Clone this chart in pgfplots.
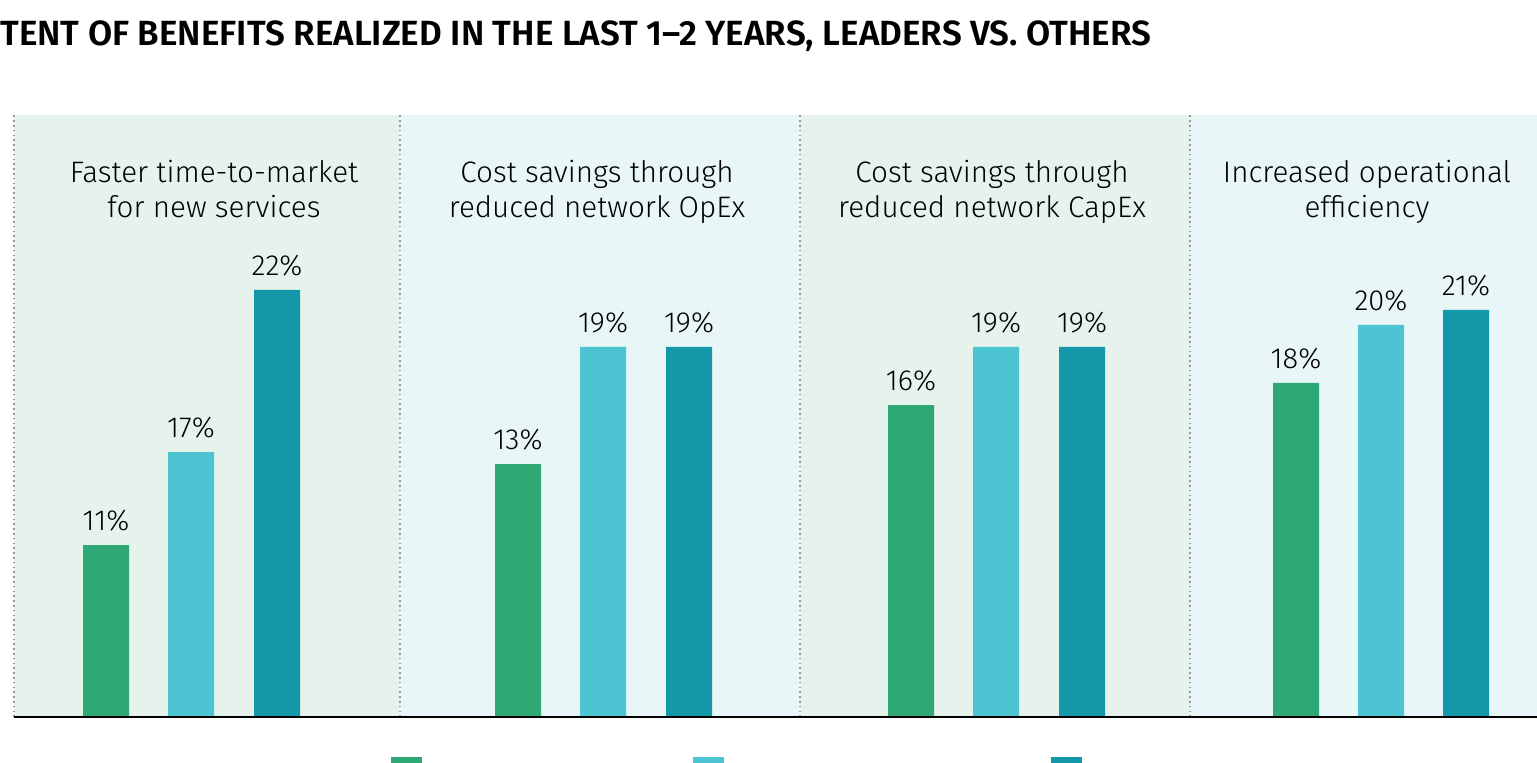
\documentclass[border=0pt]{standalone}
\usepackage{pgfplots}
\pgfplotsset{compat=1.18}
\usepackage{fontspec}
\setmainfont{Fira Sans Light}[BoldFont={Fira Sans SemiBold}]
\definecolor{cgreen}{HTML}{2EA874}
\definecolor{ccyan}{HTML}{4DC4D2}
\definecolor{cteal}{HTML}{1597AA}
\definecolor{bggreen}{HTML}{E6F3EC}
\definecolor{bgcyan}{HTML}{E8F6F7}
\begin{document}
\begin{tikzpicture}
\node[anchor=base west, inner sep=0pt, font=\bfseries\fontsize{17.5}{20}\selectfont] at (0pt,358pt) {TENT OF BENEFITS REALIZED IN THE LAST 1--2 YEARS, LEADERS VS. OTHERS};
\node[anchor=base east, inner sep=0pt, font=\bfseries\fontsize{17.5}{20}\selectfont] at (0pt,358pt) {EX};
\begin{axis}[
  at={(7pt,22.5pt)}, anchor=south west,
  scale only axis, width=761.5pt, height=301pt,
  xmin=14, xmax=1537, ymin=0, ymax=31.01,
  hide axis, clip=false, set layers,
  ybar, bar width=46, bar shift=0pt,
  nodes near coords, point meta=explicit symbolic,
  every node near coord/.append style={font=\fontsize{14.5}{16}\selectfont, anchor=south, inner sep=0pt, yshift=6.5pt, text=black},
]
\begin{pgfonlayer}{axis background}
\fill[bggreen] (axis cs:14,0) rectangle (axis cs:400,31.01);
\fill[bgcyan] (axis cs:400,0) rectangle (axis cs:800,31.01);
\fill[bggreen] (axis cs:800,0) rectangle (axis cs:1190,31.01);
\fill[bgcyan] (axis cs:1190,0) rectangle (axis cs:1537,31.01);
\draw[gray!80, line width=0.8pt, dash pattern=on 0.8pt off 1.6pt] (axis cs:14,0) -- (axis cs:14,31.01);
\draw[gray!80, line width=0.8pt, dash pattern=on 0.8pt off 1.6pt] (axis cs:400,0) -- (axis cs:400,31.01);
\draw[gray!80, line width=0.8pt, dash pattern=on 0.8pt off 1.6pt] (axis cs:800,0) -- (axis cs:800,31.01);
\draw[gray!80, line width=0.8pt, dash pattern=on 0.8pt off 1.6pt] (axis cs:1190,0) -- (axis cs:1190,31.01);
\end{pgfonlayer}
\addplot[fill=cgreen, draw=none] coordinates {(106,8.86)[11\%] (518,13.03)[13\%] (911,16.07)[16\%] (1296,17.21)[18\%]};
\addplot[fill=ccyan, draw=none] coordinates {(191,13.65)[17\%] (603,19.06)[19\%] (996,19.06)[19\%] (1381,20.2)[20\%]};
\addplot[fill=cteal, draw=none] coordinates {(277,22.0)[22\%] (689,19.06)[19\%] (1082,19.06)[19\%] (1466,20.97)[21\%]};
\draw[black, line width=1.1pt] (axis cs:14,0) -- (axis cs:1537,0);
\node[align=center, font=\fontsize{14.8}{17.5}\selectfont, inner sep=0pt] at (axis cs:214,27.18) {Faster time-to-market\\for new services};
\node[align=center, font=\fontsize{14.8}{17.5}\selectfont, inner sep=0pt] at (axis cs:597,27.03) {Cost savings through\\reduced network OpEx};
\node[align=center, font=\fontsize{14.8}{17.5}\selectfont, inner sep=0pt] at (axis cs:992,27.03) {Cost savings through\\reduced network CapEx};
\node[align=center, font=\fontsize{14.8}{17.5}\selectfont, inner sep=0pt] at (axis cs:1367,27.03) {Increased operational\\efficiency};
\fill[cgreen] (axis cs:391,-2.06) rectangle (axis cs:422,-3.66);
\fill[ccyan] (axis cs:693,-2.06) rectangle (axis cs:724,-3.66);
\fill[cteal] (axis cs:1051,-2.06) rectangle (axis cs:1082,-3.66);
\node[anchor=base west, inner sep=0pt, font=\fontsize{14.8}{17}\selectfont] at (axis cs:437,-3.58) {Beginners};
\node[anchor=base west, inner sep=0pt, font=\fontsize{14.8}{17}\selectfont] at (axis cs:740,-3.58) {Fast followers};
\node[anchor=base west, inner sep=0pt, font=\fontsize{14.8}{17}\selectfont] at (axis cs:1098,-3.58) {Leaders};
\end{axis}
\pgfresetboundingbox
\useasboundingbox (0pt,0pt) rectangle (768.5pt,381pt);
\end{tikzpicture}
\end{document}
